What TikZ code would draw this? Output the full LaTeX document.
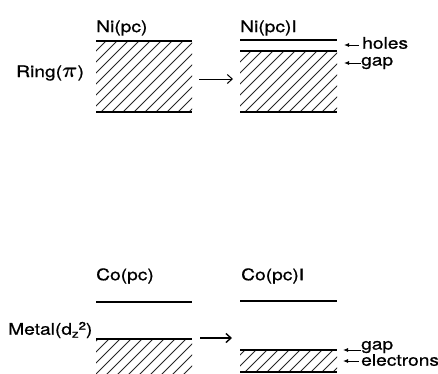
\documentclass[tikz,border=0pt]{standalone}
\usepackage{bm}
\usepackage{fontspec}
\setmainfont{TeX Gyre Heros}[FakeStretch=1.2,FakeBold=0.8]
\usetikzlibrary{arrows.meta}
% diagonal hatching inside the rectangle (x1,y1)-(x2,y2)
\newcommand\hatchfill[4]{%
  \begin{scope}
    \clip (#1,#2) rectangle (#3,#4);
    \foreach \s in {-94,-83,...,110} {\draw[hatch] ({#1+\s},#4) -- ++(90,-90);}
  \end{scope}}
\newcommand\smallfont{\fontsize{11}{11}\selectfont}
\begin{document}
\begin{tikzpicture}[x=1pt,y=-1pt,
  lbl/.style={font=\fontsize{16}{18}\selectfont, inner sep=0pt, anchor=west},
  band/.style={line width=2pt},
  thinband/.style={line width=1.3pt},
  hatch/.style={line width=0.8pt, black!85},
  shiftarrow/.style={line width=1pt, -{Straight Barb[length=5pt,width=9pt]}},
  markarrow/.style={line width=0.9pt, {Latex[length=5pt,width=4pt]}-}]
\useasboundingbox (0,0) rectangle (438,373);

% ---- upper panel: ring (pi) band ----
\node[lbl] (nipc) at (96,28) {Ni(pc)};
\node[lbl] (nipci) at (240,28) {Ni(pc)I};
\node[lbl] (ring) at (16,73) {Ring(\scalebox{1.25}{$\bm{\pi}$})};

\hatchfill{96}{41}{192}{112}
\draw[band] (96,41) -- (192,41);
\draw[band] (96,112) -- (192,112);

\hatchfill{240}{51}{337}{112}
\draw[band] (240,40) -- (337,40);
\draw[thinband] (240,51) -- (337,51);
\draw[band] (240,112) -- (337,112);

\coordinate (a1s) at (199,79);
\coordinate (a1e) at (233,79);
\draw[shiftarrow] (a1s) -- (a1e);

\node[lbl] (holes) at (362,43) {holes};
\coordinate (holesp) at (344,45);
\draw[markarrow] (holesp) -- ([xshift=-3pt]holes.west |- holesp);
\node[lbl] (gap1) at (361,63) {gap};
\coordinate (gap1p) at (344,63);
\draw[markarrow] (gap1p) -- (gap1.west |- gap1p);

% ---- lower panel: metal d_z2 band ----
\node[lbl] (copc) at (96,276) {Co(pc)};
\node[lbl] (copci) at (241,276) {Co(pc)I};
\node[lbl] (metal) at (8,330) {Metal(d\raisebox{-3pt}{\smallfont z}\raisebox{5pt}{\smallfont 2})};

\draw[thinband] (96,302) -- (192,302);
\hatchfill{96}{339}{192}{380}
\draw[thinband] (96,339) -- (192,339);

\draw[thinband] (240,301) -- (337,301);
\hatchfill{240}{350}{337}{372}
\draw[thinband] (240,350) -- (337,350);
\draw[thinband] (240,372) -- (337,372);

\coordinate (a2s) at (200,338);
\coordinate (a2e) at (232,338);
\draw[shiftarrow, line width=1.4pt] (a2s) -- (a2e);

\node[lbl] (gap2) at (361,347) {gap};
\coordinate (gap2p) at (343,350);
\draw[markarrow] (gap2p) -- (gap2.west |- gap2p);
\node[lbl] (elec) at (361,360) {electrons};
\coordinate (elecp) at (343,361);
\draw[markarrow] (elecp) -- ([xshift=-2pt]elec.west |- elecp);
\end{tikzpicture}
\end{document}
